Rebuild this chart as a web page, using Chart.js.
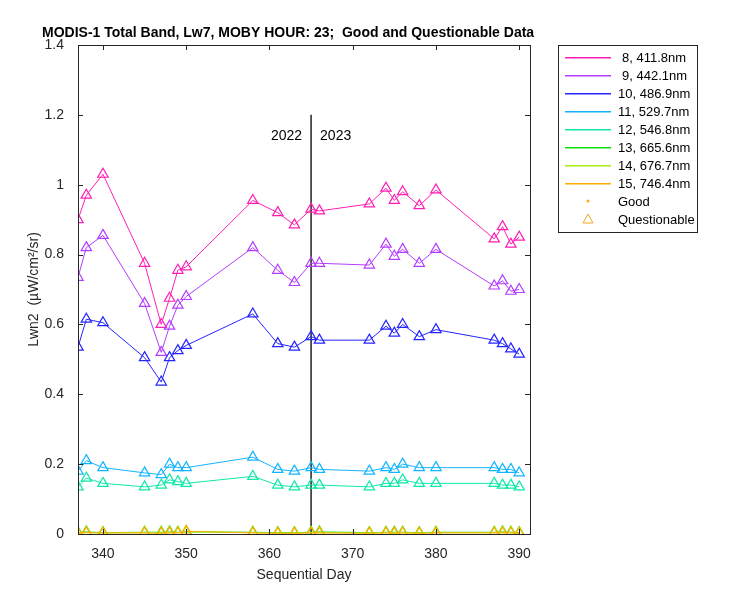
<!DOCTYPE html>
<html>
<head>
<meta charset="utf-8">
<script src="https://cdn.jsdelivr.net/npm/chart.js@4"></script>
<style>
body { margin: 0; background: #fff; }
#wrap { width: 750px; height: 600px; }
</style>
</head>
<body>
<div id="wrap"><canvas id="grafico" width="750" height="600"></canvas></div>
<script>
const dias = [337, 338, 340, 345, 347, 348, 349, 350, 358, 361, 363, 365, 366, 372, 374, 375, 376, 378, 380, 387, 388, 389, 390];

const b8 = [0.90, 0.97, 1.03, 0.775, 0.60, 0.675, 0.755, 0.765, 0.955, 0.92, 0.885, 0.93, 0.925, 0.945, 0.99, 0.955, 0.98, 0.94, 0.985, 0.845, 0.88, 0.83, 0.85];
const b9 = [0.735, 0.82, 0.855, 0.66, 0.52, 0.595, 0.655, 0.68, 0.82, 0.755, 0.72, 0.775, 0.775, 0.77, 0.83, 0.795, 0.815, 0.775, 0.815, 0.71, 0.725, 0.695, 0.70];
const b10 = [0.535, 0.615, 0.605, 0.505, 0.435, 0.505, 0.525, 0.54, 0.63, 0.545, 0.535, 0.565, 0.555, 0.555, 0.595, 0.575, 0.60, 0.565, 0.585, 0.555, 0.545, 0.53, 0.515];
const b11 = [0.18, 0.21, 0.19, 0.175, 0.17, 0.20, 0.19, 0.19, 0.22, 0.185, 0.18, 0.19, 0.185, 0.18, 0.19, 0.185, 0.20, 0.19, 0.19, 0.19, 0.185, 0.185, 0.175];
const b12 = [0.135, 0.16, 0.145, 0.135, 0.14, 0.155, 0.15, 0.145, 0.165, 0.14, 0.135, 0.14, 0.14, 0.135, 0.145, 0.145, 0.155, 0.145, 0.145, 0.145, 0.14, 0.14, 0.135];
const b13 = [0.004, 0.006, 0.004, 0.005, 0.005, 0.006, 0.005, 0.006, 0.005, 0.004, 0.004, 0.005, 0.006, 0.004, 0.005, 0.005, 0.005, 0.004, 0.005, 0.005, 0.006, 0.005, 0.004];
const b14 = [0.003, 0.004, 0.003, 0.004, 0.003, 0.004, 0.004, 0.006, 0.004, 0.003, 0.003, 0.004, 0.004, 0.003, 0.004, 0.003, 0.004, 0.003, 0.004, 0.004, 0.005, 0.004, 0.003];
const b15 = [0.002, 0.004, 0.003, 0.003, 0.002, 0.003, 0.003, 0.008, 0.003, 0.002, 0.002, 0.003, 0.003, 0.002, 0.003, 0.002, 0.003, 0.002, 0.003, 0.003, 0.003, 0.003, 0.002];

const nomes = ["8, 411.8nm", "9, 442.1nm", "10, 486.9nm", "11, 529.7nm", "12, 546.8nm", "13, 665.6nm", "14, 676.7nm", "15, 746.4nm"];
const cores = ["#ff1fb4", "#b43cff", "#2424ff", "#14b4ff", "#10e8a8", "#10e010", "#a8f010", "#ffaa00"];
const series = [b8, b9, b10, b11, b12, b13, b14, b15];

const yTicks = [0, 0.2, 0.4, 0.6, 0.8, 1, 1.2, 1.4];
const xTicks = [340, 350, 360, 370, 380, 390];
const anoDivisao = 365;

const fonte = "Arial, 'Liberation Sans', sans-serif";

const datasets = series.map((vals, i) => ({
    label: nomes[i],
    data: vals.map((v, k) => ({ x: dias[k], y: v })),
    borderColor: cores[i],
    backgroundColor: "rgba(0,0,0,0)",
    borderWidth: 1,
    pointStyle: "triangle",
    pointRadius: 6,
    pointBorderWidth: 1.2,
    tension: 0,
    order: 9 - i,
}));

datasets.push({
    label: "divisao",
    data: [{ x: anoDivisao, y: 0 }, { x: anoDivisao, y: 1.2 }],
    borderColor: "#000",
    borderWidth: 1.3,
    pointRadius: 0,
    order: 20,
});

const extras = {
    id: "extras",
    afterDraw(chart) {
        const c = chart.ctx;
        const a = chart.chartArea;
        const xs = chart.scales.x;
        const ys = chart.scales.y;
        c.save();
        c.strokeStyle = "#262626";
        c.lineWidth = 1;
        c.strokeRect(Math.round(a.left) + 0.5, Math.round(a.top) + 0.5, Math.round(a.right - a.left), Math.round(a.bottom - a.top));
        c.beginPath();
        xTicks.forEach(t => {
            const px = Math.round(xs.getPixelForValue(t)) + 0.5;
            c.moveTo(px, a.bottom); c.lineTo(px, a.bottom - 5);
            c.moveTo(px, a.top); c.lineTo(px, a.top + 5);
        });
        yTicks.forEach(t => {
            const py = Math.round(ys.getPixelForValue(t)) + 0.5;
            c.moveTo(a.left, py); c.lineTo(a.left + 5, py);
            c.moveTo(a.right, py); c.lineTo(a.right - 5, py);
        });
        c.stroke();

        c.fillStyle = "#000";
        c.font = "14px " + fonte;
        c.textBaseline = "middle";
        const px = xs.getPixelForValue(anoDivisao);
        const py = ys.getPixelForValue(1.14);
        c.textAlign = "right";
        c.fillText("2022", px - 9, py);
        c.textAlign = "left";
        c.fillText("2023", px + 9, py);

        c.font = "bold 14px " + fonte;
        c.textAlign = "left";
        c.fillText("MODIS-1 Total Band, Lw7, MOBY HOUR: 23;  Good and Questionable Data", 42, 33);

        // legenda
        const lx = 558, ly = 45, lw = 139, lh = 187;
        c.fillStyle = "#fff";
        c.fillRect(lx, ly, lw, lh);
        c.strokeStyle = "#262626";
        c.strokeRect(lx + 0.5, ly + 0.5, lw, lh);
        c.font = "13px " + fonte;
        c.textAlign = "left";
        const passo = 18;
        nomes.forEach((n, i) => {
            const yy = Math.round(ly + 12 + i * passo);
            c.fillStyle = cores[i];
            c.fillRect(lx + 7, yy, 46, 1.5);
            c.fillStyle = "#000";
            c.fillText(n, lx + 60 + (i < 2 ? 4 : 0), yy + 1);
        });
        let yy = ly + 12 + 8 * passo;
        c.fillStyle = "#f5a623";
        c.beginPath(); c.arc(lx + 30, yy, 1.5, 0, Math.PI * 2); c.fill();
        c.fillStyle = "#000";
        c.fillText("Good", lx + 60, yy + 1);
        yy += passo;
        c.strokeStyle = "#f5a623";
        c.beginPath();
        c.moveTo(lx + 30, yy - 5); c.lineTo(lx + 35, yy + 4); c.lineTo(lx + 25, yy + 4); c.closePath();
        c.stroke();
        c.fillStyle = "#000";
        c.fillText("Questionable", lx + 60, yy + 1);
        c.restore();
    },
};

new Chart(document.getElementById("grafico"), {
    type: "line",
    data: { datasets },
    options: {
        responsive: false,
        animation: false,
        layout: { padding: { top: 45, right: 220, left: 26, bottom: 16 } },
        plugins: { legend: { display: false }, tooltip: { enabled: false } },
        scales: {
            x: {
                type: "linear",
                min: 337,
                max: 391.3,
                afterBuildTicks: s => { s.ticks = xTicks.map(v => ({ value: v })); },
                afterFit: s => { s.height = 50; },
                grid: { display: false },
                border: { display: false },
                ticks: { color: "#262626", font: { family: fonte, size: 14 }, padding: 4 },
                title: { display: true, text: "Sequential Day", color: "#262626", font: { family: fonte, size: 14 }, padding: 0 },
            },
            y: {
                min: 0,
                max: 1.4,
                afterBuildTicks: s => { s.ticks = yTicks.map(v => ({ value: v })); },
                afterFit: s => { s.width = 52; },
                grid: { display: false },
                border: { display: false },
                ticks: { color: "#262626", font: { family: fonte, size: 14 }, padding: 6, callback: v => String(v) },
                title: { display: true, text: "Lwn2  (µW/cm²/sr)", color: "#262626", font: { family: fonte, size: 14 }, padding: 0 },
            },
        },
    },
    plugins: [extras],
});
</script>
</body>
</html>
